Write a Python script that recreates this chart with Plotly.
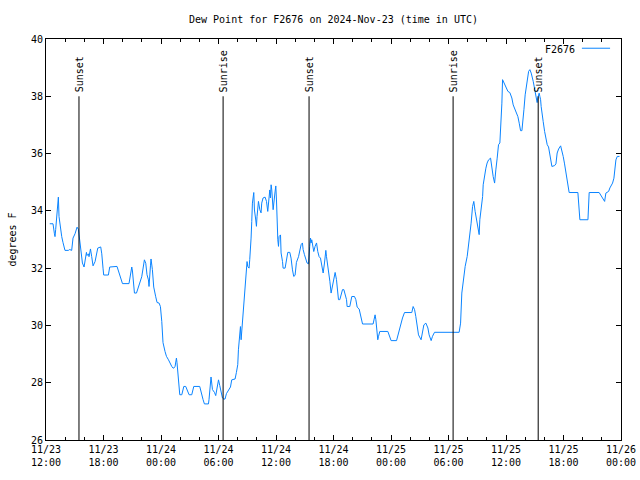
import pandas as pd
import plotly.graph_objects as go

# hours since 2024-11-23 12:00 UTC
hours = [0.39, 0.73, 0.88, 0.94, 1.01, 1.12, 1.22, 1.29, 1.36, 1.50, 1.64, 1.77, 1.98, 2.34, 2.47, 2.68,
         2.82, 3.03, 3.24, 3.38, 3.52, 3.65, 3.80, 3.97, 4.07, 4.22, 4.28, 4.43, 4.49, 4.64, 4.77, 4.91,
         5.12, 5.26, 5.40, 5.71, 5.82, 5.95, 6.02, 6.51, 6.65, 7.41, 7.62, 7.83, 7.98, 8.66, 8.81, 8.95,
         9.02, 9.08, 9.23, 9.44, 9.57, 9.78, 9.99, 10.27, 10.41, 10.54, 10.69, 10.75, 10.90, 10.96, 11.10,
         11.24, 11.45, 11.59, 11.80, 11.94, 12.08, 12.21, 12.42, 12.57, 12.78, 12.91, 13.12, 13.26, 13.33,
         13.47, 13.61, 13.67, 13.82, 13.96, 14.17, 14.38, 14.58, 14.79, 14.93, 15.21, 15.42, 16.04, 16.18,
         16.39, 16.53, 16.95, 17.01, 17.16, 17.22, 17.37, 17.58, 17.71, 17.85, 18.00, 18.13, 18.27, 18.41,
         18.55, 18.68, 18.83, 19.04, 19.25, 19.38, 19.73, 19.87, 20.01, 20.08, 20.22, 20.29, 20.36, 20.43,
         20.56, 20.64, 20.77, 20.92, 20.98, 21.05, 21.19, 21.26, 21.34, 21.40, 21.47, 21.54, 21.68, 21.75,
         21.89, 21.96, 22.02, 22.17, 22.31, 22.44, 22.51, 22.65, 22.86, 23.01, 23.14, 23.22, 23.28, 23.35,
         23.42, 23.49, 23.56, 23.63, 23.70, 23.90, 23.98, 24.05, 24.11, 24.19, 24.26, 24.32, 24.47, 24.53,
         24.68, 24.74, 24.95, 25.09, 25.23, 25.44, 25.57, 25.72, 25.85, 25.99, 26.13, 26.35, 26.48, 26.62,
         26.76, 26.83, 26.97, 27.11, 27.24, 27.39, 27.45, 27.52, 27.60, 27.66, 27.73, 27.87, 27.94, 28.08,
         28.23, 28.36, 28.50, 28.64, 28.71, 28.85, 28.92, 29.06, 29.20, 29.27, 29.41, 29.55, 29.62, 29.75,
         29.83, 29.96, 30.10, 30.17, 30.31, 30.45, 30.52, 30.66, 30.79, 30.94, 31.08, 31.21, 31.36, 31.42,
         31.70, 31.91, 32.19, 32.33, 32.47, 32.68, 32.88, 33.03, 34.13, 34.28, 34.34, 34.42, 34.49, 34.62,
         34.70, 34.83, 35.67, 35.88, 36.01, 36.58, 36.78, 36.99, 37.20, 37.41, 38.17, 38.31, 38.46, 38.59,
         38.73, 38.87, 39.14, 39.29, 39.43, 39.64, 39.85, 39.98, 40.19, 40.33, 40.54, 43.11, 43.26, 43.39,
         43.53, 43.74, 43.95, 44.15, 44.36, 44.51, 44.64, 44.78, 44.93, 45.06, 45.20, 45.27, 45.41, 45.56,
         45.62, 45.76, 45.90, 46.03, 46.18, 46.39, 46.52, 46.66, 46.81, 46.87, 46.94, 47.08, 47.22, 47.36,
         47.43, 47.57, 47.64, 47.78, 47.99, 48.20, 48.40, 48.61, 48.75, 48.96, 49.10, 49.24, 49.38, 49.52,
         49.66, 49.79, 49.87, 50.00, 50.15, 50.36, 50.49, 50.63, 50.84, 50.98, 51.12, 51.19, 51.25, 51.32,
         51.40, 51.46, 51.53, 51.61, 51.67, 51.74, 51.88, 52.03, 52.16, 52.30, 52.44, 52.58, 52.65, 52.79,
         53.07, 53.21, 53.34, 53.49, 53.70, 53.84, 53.97, 54.11, 54.25, 54.38, 54.53, 54.59, 55.50, 55.64,
         55.71, 56.55, 56.62, 56.68, 57.72, 57.87, 58.01, 58.15, 58.29, 58.42, 58.71, 58.84, 59.12, 59.26,
         59.33, 59.47, 59.61, 59.84]

dewpoint = [33.55, 33.55, 33.2, 33.1, 33.35, 33.8, 34.48, 34.48, 33.8, 33.4, 33.1, 32.9, 32.62, 32.62, 32.65, 32.62,
            33.05, 33.2, 33.43, 33.36, 33.0, 32.47, 32.18, 32.04, 32.3, 32.55, 32.44, 32.5, 32.4, 32.67, 32.4, 32.08,
            32.23, 32.43, 32.7, 32.74, 32.5, 32.0, 31.76, 31.76, 32.04, 32.06, 31.83, 31.62, 31.46, 31.46, 31.7, 32.04,
            31.9, 31.67, 31.13, 31.13, 31.3, 31.48, 31.7, 32.29, 32.17, 31.77, 31.59, 31.36, 32.08, 32.32, 31.95,
            31.34, 31.0, 30.8, 30.78, 30.66, 30.14, 29.4, 29.09, 28.92, 28.8, 28.69, 28.57, 28.51, 28.51,
            28.57, 28.86, 28.7, 28.22, 27.58, 27.58, 27.87, 27.87, 27.7, 27.58, 27.58, 27.87, 27.87, 27.66,
            27.41, 27.26, 27.26, 27.41, 27.99, 28.2, 27.76, 27.66, 27.55, 27.8, 28.1, 27.9, 27.66, 27.47,
            27.43, 27.43, 27.62, 27.76, 27.85, 28.1, 28.13, 28.36, 28.63, 29.15, 29.62, 29.96, 29.5, 29.85,
            30.37, 30.9, 31.42, 31.94, 32.23, 32.06, 32.0, 32.3, 32.64, 33.05, 33.63, 34.27, 34.64, 34.03,
            33.68, 33.46, 33.8, 34.33, 34.04, 33.93, 34.27, 34.45, 34.48, 34.33, 33.98, 34.27, 34.56, 34.73,
            34.45, 34.91, 34.73, 34.33, 34.04, 34.66, 34.87, 34.38, 33.34, 32.99, 32.76, 33.1, 33.16, 32.53,
            32.23, 32.0, 32.0, 32.3, 32.55, 32.55, 32.35, 31.94, 31.71, 31.75, 32.2, 32.4, 32.58, 32.82,
            32.88, 32.65, 32.47, 32.3, 32.18, 32.15, 32.6, 32.76, 33.05, 32.88, 32.99, 32.7, 32.58, 32.76,
            32.88, 32.58, 32.4, 32.35, 32.18, 31.94, 31.83, 32.18, 32.62, 32.4, 32.06, 31.83, 31.54, 31.13,
            31.25, 31.42, 31.65, 31.85, 31.6, 31.19, 30.9, 30.9, 31.07, 31.25, 31.25, 31.07, 30.9, 30.66,
            30.66, 31.01, 31.01, 30.9, 30.64, 30.57, 30.26, 30.05, 30.05, 30.22, 30.37, 30.2, 29.85, 29.5,
            29.62, 29.79, 29.79, 29.56, 29.47, 29.47, 29.73, 30.02, 30.26, 30.45, 30.45, 30.66, 30.55, 30.31,
            29.96, 29.67, 29.5, 29.72, 30.02, 30.08, 29.91, 29.67, 29.47, 29.62, 29.76, 29.76, 30.08, 31.13,
            31.6, 32.06, 32.41, 32.93, 33.57, 34.15, 34.33, 33.98, 33.69, 33.45, 33.17, 33.69, 34.1, 34.5,
            34.91, 35.26, 35.49, 35.67, 35.78, 35.84, 35.43, 35.2, 34.97, 35.26, 35.43, 35.84, 36.31, 36.37,
            36.77, 37.76, 38.58, 38.46, 38.29, 38.17, 38.13, 37.94, 37.7, 37.53, 37.41, 37.29, 37.06, 36.8,
            36.8, 37.18, 37.53, 38.05, 38.46, 38.87, 38.93, 38.81, 38.52, 38.29, 38.11, 37.88, 37.78, 37.95,
            38.11, 38.11, 38.0, 37.88, 37.64, 37.41, 37.12, 36.77, 36.48, 36.31, 36.23, 35.96, 35.79, 35.55,
            35.58, 35.64, 36.02, 36.16, 36.27, 36.1, 35.9, 35.64, 35.38, 35.14, 34.85, 34.64, 34.64, 34.15,
            33.69, 33.69, 34.15, 34.64, 34.64, 34.56, 34.48, 34.39, 34.33, 34.62, 34.68, 34.8, 34.97, 35.14,
            35.43, 35.78, 35.9, 35.9]

sun_events = ["Sunset", "Sunrise", "Sunset", "Sunrise", "Sunset"]
sun_hours = [3.44, 18.48, 27.45, 42.48, 51.36]

start = pd.Timestamp("2024-11-23 12:00")
times = start + pd.to_timedelta(hours, unit="h")
sun_times = start + pd.to_timedelta(sun_hours, unit="h")

FONT = "DejaVu Sans Mono"
LINE_COLOR = "#0a84ff"

fig = go.Figure()
fig.add_trace(go.Scatter(x=times, y=dewpoint, mode="lines", name="F2676",
                         line=dict(color=LINE_COLOR, width=1), showlegend=False))

for t, lab in zip(sun_times, sun_events):
    fig.add_shape(type="line", xref="x", yref="y", x0=t, x1=t, y0=26, y1=38,
                  line=dict(color="black", width=1))
    fig.add_annotation(x=t, y=38, xref="x", yref="y", text=lab, textangle=-90,
                       showarrow=False, xanchor="center", yanchor="bottom", yshift=3,
                       font=dict(family=FONT, size=10, color="black"), borderpad=0)

# legend (gnuplot style: text then line sample)
fig.add_annotation(x=0.9217, y=0.975, xref="paper", yref="paper", text="F2676",
                   showarrow=False, xanchor="right", yanchor="middle",
                   font=dict(family=FONT, size=10, color="black"), borderpad=0)
fig.add_shape(type="line", xref="paper", yref="paper", x0=0.932, x1=0.981, y0=0.977, y1=0.977,
              line=dict(color=LINE_COLOR, width=1))

fig.update_layout(
    width=640, height=480,
    margin=dict(l=46, r=19, t=39, b=40, autoexpand=False),
    paper_bgcolor="white", plot_bgcolor="white",
    font=dict(family=FONT, size=10, color="black"),
    title=dict(text="Dew Point for F2676 on 2024-Nov-23 (time in UTC)", x=0.5, xref="paper",
               y=1 - 19 / 480, yref="container", yanchor="middle",
               font=dict(family=FONT, size=10, color="black")),
    showlegend=False,
)
fig.update_xaxes(
    type="date", range=[start, start + pd.Timedelta(hours=60)], automargin=False,
    tick0=start, dtick=6 * 3600 * 1000, tickformat="%m/%d<br>%H:%M",
    showgrid=False, zeroline=False, showline=True, linecolor="black", linewidth=1,
    mirror="ticks", ticks="inside", ticklen=5, tickcolor="black",
    minor=dict(dtick=2 * 3600 * 1000, ticks="inside", ticklen=3, tickcolor="black", showgrid=False),
    tickfont=dict(family=FONT, size=10),
)
fig.update_yaxes(
    range=[26, 40], dtick=2, tick0=26, automargin=False,
    showgrid=False, zeroline=False, showline=True, linecolor="black", linewidth=1,
    mirror="ticks", ticks="inside", ticklen=5, tickcolor="black",
    title=dict(text="degrees F", font=dict(family=FONT, size=10), standoff=12),
    tickfont=dict(family=FONT, size=10),
)

fig.write_html("out.html")
